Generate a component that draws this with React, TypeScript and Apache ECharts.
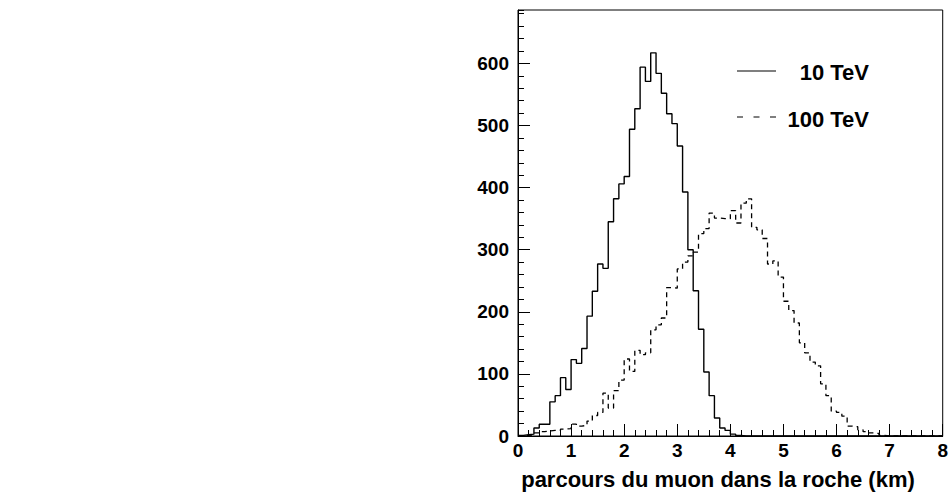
import React, { useEffect, useRef } from "react";
import * as echarts from "echarts";

// Histogram of muon range in rock, bins of 0.1 km from 0 to 8 km
const BIN_WIDTH = 0.1;
const seriesNames = ["10 TeV", "100 TeV"];
const xAxisTitle = "parcours du muon dans la roche (km)";

const counts10TeV = [
  1, 2, 3, 13, 19, 19, 55, 65, 94, 75,
  123, 117, 141, 193, 233, 277, 270, 345, 382, 406,
  418, 494, 527, 594, 571, 617, 584, 552, 519, 503,
  467, 393, 300, 234, 172, 103, 65, 29, 13, 9,
  3, 1, 0, 0, 0, 0, 0, 0, 0, 0,
  0, 0, 0, 0, 0, 0, 0, 0, 0, 0,
  0, 0, 0, 0, 0, 0, 0, 0, 0, 0,
  0, 0, 0, 0, 0, 0, 0, 0, 0, 0,
];

const counts100TeV = [
  0, 1, 2, 5, 7, 8, 9, 9, 11, 12,
  19, 16, 17, 24, 33, 38, 69, 45, 73, 90,
  124, 104, 138, 131, 134, 171, 179, 190, 239, 238,
  269, 280, 290, 296, 326, 334, 359, 351, 350, 350,
  363, 343, 375, 382, 336, 332, 318, 277, 282, 256,
  217, 202, 182, 150, 134, 119, 113, 84, 65, 40,
  38, 32, 16, 15, 10, 7, 5, 4, 1, 0,
  0, 0, 0, 0, 0, 0, 0, 0, 0, 0,
];

const X_MIN = 0;
const X_MAX = 8;
const Y_MAX = 686;

function toSteps(values: number[]): [number, number][] {
  const pts: [number, number][] = values.map((v, i) => [
    Math.round(i * BIN_WIDTH * 1000) / 1000,
    v,
  ]);
  pts.push([Math.round(values.length * BIN_WIDTH * 1000) / 1000, values[values.length - 1]]);
  return pts;
}

const FONT = "'Liberation Sans', Arial, Helvetica, sans-serif";

export default function App() {
  const ref = useRef<HTMLDivElement>(null);

  useEffect(() => {
    if (!ref.current) return;
    const chart = echarts.init(ref.current, undefined, { renderer: "svg" });
    const labelStyle = {
      color: "#000",
      fontFamily: FONT,
      fontWeight: "bold" as const,
      fontSize: 19,
    };
    chart.setOption({
      animation: false,
      backgroundColor: "#fff",
      grid: {
        left: 518,
        right: 6,
        top: 10,
        bottom: 59,
        show: true,
        borderColor: "#000",
        borderWidth: 1,
        backgroundColor: "transparent",
      },
      xAxis: {
        type: "value",
        min: X_MIN,
        max: X_MAX,
        interval: 1,
        axisLine: { show: true, onZero: false, lineStyle: { color: "#000", width: 1 } },
        axisTick: { show: true, inside: true, length: 12, lineStyle: { color: "#000", width: 1 } },
        minorTick: { show: true, splitNumber: 5, length: 6, lineStyle: { color: "#000", width: 1 } },
        splitLine: { show: false },
        axisLabel: { ...labelStyle, margin: 5 },
      },
      yAxis: [
        {
          type: "value",
          position: "left",
          min: 0,
          max: Y_MAX,
          interval: 100,
          axisLine: { show: true, onZero: false, lineStyle: { color: "#000", width: 1 } },
          axisTick: { show: true, inside: true, length: 12, lineStyle: { color: "#000", width: 1 } },
          splitLine: { show: false },
          axisLabel: {
            ...labelStyle,
            margin: 9,
            showMaxLabel: false,
            formatter: (v: number) => (v % 100 === 0 ? String(v) : ""),
          },
        },
        {
          type: "value",
          position: "left",
          min: 0,
          max: Y_MAX,
          interval: 20,
          axisLine: { show: false },
          axisTick: { show: true, inside: true, length: 6, lineStyle: { color: "#000", width: 1 } },
          splitLine: { show: false },
          axisLabel: { show: false },
        },
      ],
      series: [
        {
          name: seriesNames[0],
          type: "line",
          step: "end",
          symbol: "none",
          yAxisIndex: 0,
          data: toSteps(counts10TeV),
          lineStyle: { color: "#000", width: 1.4, type: "solid" },
          itemStyle: { color: "#000" },
        },
        {
          name: seriesNames[1],
          type: "line",
          step: "end",
          symbol: "none",
          yAxisIndex: 0,
          data: toSteps(counts100TeV),
          lineStyle: { color: "#000", width: 1.3, type: [5, 4] },
          itemStyle: { color: "#000" },
        },
      ],
      graphic: [
        {
          type: "line",
          shape: { x1: 737, y1: 71, x2: 776, y2: 71 },
          style: { stroke: "#000", lineWidth: 1.2 },
        },
        {
          type: "text",
          x: 869,
          y: 72.5,
          style: {
            text: seriesNames[0],
            fill: "#000",
            font: `bold 22px ${FONT}`,
            textAlign: "right",
            textVerticalAlign: "middle",
          },
        },
        {
          type: "line",
          shape: { x1: 737, y1: 117, x2: 776, y2: 117 },
          style: { stroke: "#000", lineWidth: 1.2, lineDash: [6, 10.5] },
        },
        {
          type: "text",
          x: 869,
          y: 119.5,
          style: {
            text: seriesNames[1],
            fill: "#000",
            font: `bold 22px ${FONT}`,
            textAlign: "right",
            textVerticalAlign: "middle",
          },
        },
        {
          type: "text",
          x: 718,
          y: 479,
          style: {
            text: xAxisTitle,
            fill: "#000",
            font: `bold 22px ${FONT}`,
            textAlign: "center",
            textVerticalAlign: "middle",
          },
        },
      ],
    });
    return () => chart.dispose();
  }, []);

  return (
    <div
      ref={ref}
      style={{ position: "absolute", left: 0, top: 0, width: 951, height: 495 }}
    />
  );
}
